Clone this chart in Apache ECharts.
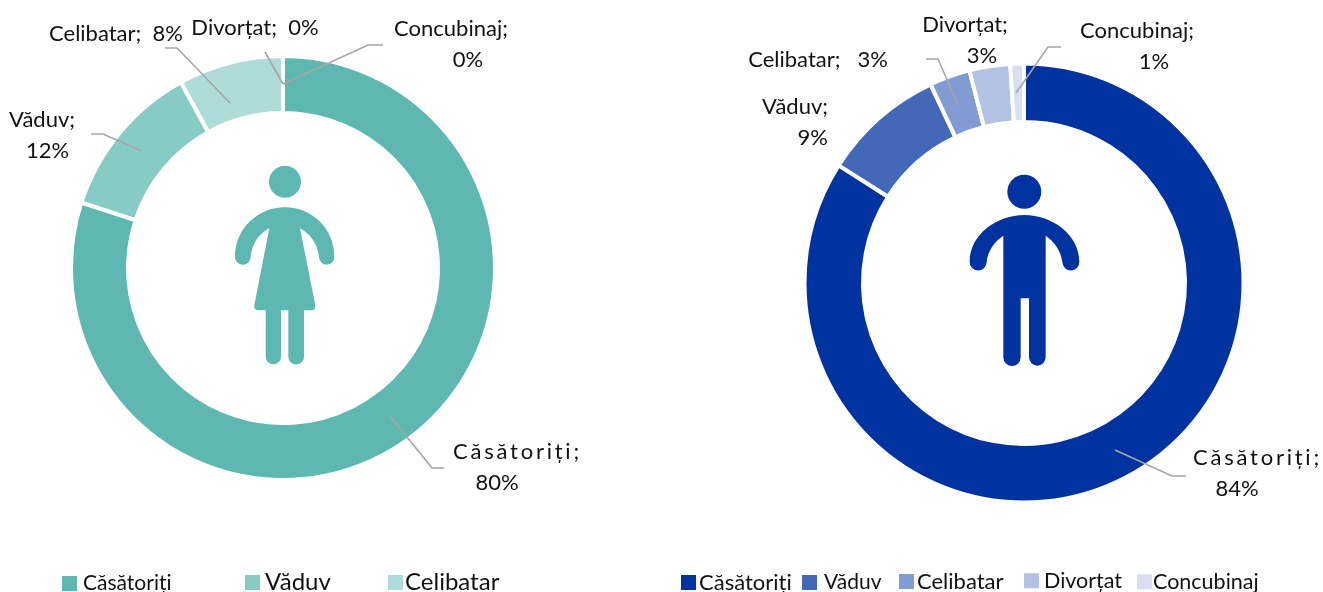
<!DOCTYPE html>
<html><head><meta charset="utf-8">
<style>html,body{margin:0;padding:0;background:#fff;overflow:hidden}#c{width:1323px;height:592px}</style>
<script src="https://cdn.jsdelivr.net/npm/echarts@6/dist/echarts.min.js"></script>
</head><body><div id="c"></div>
<script>
const categories = ['Căsătoriți','Văduv','Celibatar','Divorțat','Concubinaj'];
const womenValues = [80,12,8,0,0];
const menValues = [84,9,3,3,1];
const womenColors = ['#5EB8B1','#87CBC5','#AFDCD8','#CFEAE7','#DFF1EF'];
const menColors = ['#0033A0','#4368B8','#829BD3','#B3C2E3','#D9DFF1'];
const HAIR = '\u200A\u200A';
const NB = n => '\u00A0'.repeat(n);
const spaced = s => Array.from(s).join(HAIR);

const labelFmt = [
  n => spaced(n+';'), n => n+';', n => n+';', n => n+';', n => n+';'];
const womenSep = ['\n'+NB(4), '\n'+NB(2), '  ', '  ', '\n'+NB(6)];
const menSep = ['\n'+NB(4), '\n', '   ', '\n'+NB(6), '\n'+NB(6)];

const womenLabelPos = [
  {x:453,y:467,align:'left'},{x:42,y:135,align:'center'},{x:116,y:34,align:'center'},
  {x:255,y:28,align:'center'},{x:451,y:44,align:'center'}];
const menLabelPos = [
  {x:1193,y:473,align:'left'},{x:828,y:122,align:'right'},{x:818,y:60,align:'center'},
  {x:965,y:40,align:'center'},{x:1137,y:46,align:'center'}];
const leaderLines = [
  [[390,416],[432,468],[444,468]],[[142,151],[103,134],[91,134]],[[230,103],[177,48],[165,48]],
  [[283,84],[265,52]],[[283,84],[368,45],[383,45]],
  [[1115,450],[1172,476],[1186,476]],[[958,105],[938,59],[926,59]],[[1016,93],[1048,47],[1061,47]]];

const womanPath = 'M60 320C60 235 130 172 210 172C290 172 358 235 358 320A23 23 0 0 1 312 322C310 285 285 250 255 235L300 462Q303 481 288 481L267 481L267 620A23.5 23.5 0 0 1 220 620L220 481L198 481L198 620A23 23 0 0 1 152 620L152 481L130 481Q115 481 118 465L163 235C135 248 110 280 107 322A23.5 23.5 0 0 1 60 320Z';
const manPath = 'M44 305C44 225 125 165 208 165C292 165 373 225 373 305A25.5 25.5 0 0 1 322 307C318 272 298 245 272 227L272 592A25 25 0 0 1 222 592L222 415L197 415L197 592A26 26 0 0 1 145 592L145 227C118 245 98 272 95 307A25.5 25.5 0 0 1 44 305Z';

const FONT = 'Lato';
function makeSeries(values, colors, center, radius, seps, pos){
  return {
    type:'pie', center, radius, startAngle:90, clockwise:true, avoidLabelOverlap:false,
    minShowLabelAngle:0, animation:false, silent:true,
    itemStyle:{borderColor:'#fff',borderWidth:4},
    label:{show:true,position:'outside',fontFamily:FONT,fontSize:22,lineHeight:31,color:'#111'},
    labelLine:{show:false},
    labelLayout:p=>{
      const a=pos[p.dataIndex];
      return {x:a.x,y:a.y,align:a.align,verticalAlign:'middle'};
    },
    data:categories.map((n,i)=>({
      name:n,value:values[i],itemStyle:{color:colors[i]},
      label:{formatter:labelFmt[i](n)+seps[i]+values[i]+'%'}
    }))
  };
}
function personSeries(path,x,y,head,color){
  return {type:'custom',coordinateSystem:'none',silent:true,data:[0],
    renderItem:()=>({type:'group',children:[
      {type:'circle',shape:{cx:head[0],cy:head[1],r:head[2]},style:{fill:color}},
      {type:'path',x,y,scaleX:1/3,scaleY:1/3,shape:{pathData:path},style:{fill:color}}
    ]})};
}
const leaderSeries={type:'custom',coordinateSystem:'none',silent:true,z:5,data:[0],
  renderItem:()=>({type:'group',children:leaderLines.map(points=>({
    type:'polyline',shape:{points},style:{fill:null,stroke:'#A6A6A6',lineWidth:1.6}
  }))})};
// [category index, square left, square top, font size, text shift]
const womenLegendLayout=[[0,62,576,21,1],[1,245,575,24,0],[2,388,575,24,-3]];
const menLegendLayout=[[0,681,575,22,-2],[1,802,575,21,2],[2,899,574,22,-2],[3,1024,573,21.5,0],[4,1137,574,21.5,-4]];
function legendAt(row,colors){
  const [i,left,top,fs,shift]=row;
  return {orient:'horizontal',itemWidth:15,itemHeight:15,itemGap:0,selectedMode:false,icon:'rect',
    left,top:top-(fs-15)/2,padding:0,
    textStyle:{fontFamily:FONT,fontSize:fs,color:'#111',padding:[0,0,0,shift]},
    data:[{name:categories[i],icon:'rect',itemStyle:{color:colors[i],borderWidth:0}}]};
}
const legends=[...womenLegendLayout.map(r=>legendAt(r,womenColors)),...menLegendLayout.map(r=>legendAt(r,menColors))];
const chart=echarts.init(document.getElementById('c'),null,{renderer:'canvas'});
chart.setOption({
  animation:false,backgroundColor:'#fff',
  legend:legends,
  series:[
    makeSeries(womenValues,womenColors,[283,268],[155,212],womenSep,womenLabelPos),
    makeSeries(menValues,menColors,[1024,283],[161,219.5],menSep,menLabelPos),
    personSeries(womanPath,215,150,[285,181.7,16],womenColors[0]),
    personSeries(manPath,955,160,[1024.3,191.7,17],menColors[0]),
    leaderSeries
  ]
});
</script></body></html>
